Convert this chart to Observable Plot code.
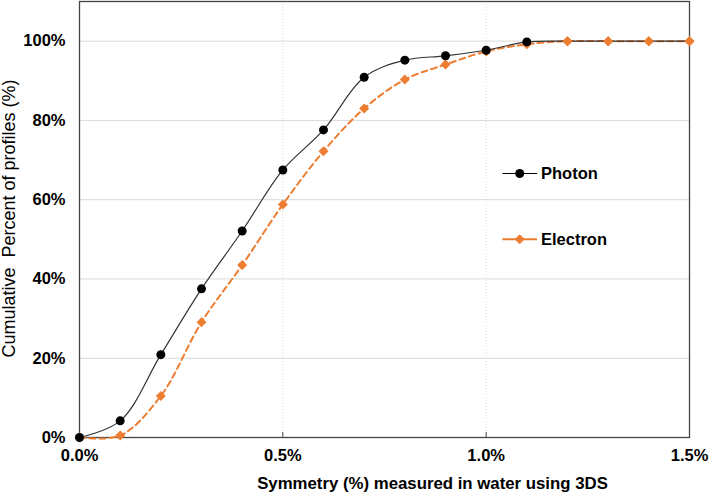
<!DOCTYPE html>
<html>
<head>
<meta charset="utf-8">
<script src="https://cdn.jsdelivr.net/npm/d3@7"></script>
<script src="https://cdn.jsdelivr.net/npm/@observablehq/plot@0.6"></script>
<style>
  html, body { margin: 0; padding: 0; background: #fff; }
  #chart { width: 709px; height: 499px; }
</style>
</head>
<body>
<div id="chart"></div>
<script>
// Symmetry (%) measured in water using 3DS
const symmetry = [0.0, 0.1, 0.2, 0.3, 0.4, 0.5, 0.6, 0.7, 0.8, 0.9, 1.0, 1.1, 1.2, 1.3, 1.4, 1.5];
// Cumulative percent of profiles (fractions)
const photon   = [0, 0.042, 0.209, 0.375, 0.521, 0.675, 0.776, 0.909, 0.952, 0.963, 0.977, 0.998, 1, 1, 1, 1];
const electron = [0, 0.005, 0.105, 0.291, 0.435, 0.588, 0.722, 0.830, 0.903, 0.941, 0.974, 0.992, 1, 1, 1, 1];
const xTicks = [0, 0.5, 1.0, 1.5];
const yTicks = [0, 0.2, 0.4, 0.6, 0.8, 1.0];
const seriesNames = ["Photon", "Electron"];
const xTitle = "Symmetry (%) measured in water using 3DS";
const yTitle = "Cumulative  Percent of profiles (%)";
const colors = {Photon: "#000000", Electron: "#ED7D31"};

const photonData = symmetry.map((x, i) => ({x, y: photon[i]}));
const electronData = symmetry.map((x, i) => ({x, y: electron[i]}));

// legend keys positioned in data space
const legend = [
  {name: "Photon", x1: 1.04, x2: 1.125, y: 0.666},
  {name: "Electron", x1: 1.04, x2: 1.125, y: 0.50}
];

const plot = Plot.plot({
  width: 709,
  height: 499,
  marginLeft: 79,
  marginRight: 20,
  marginTop: 1,
  marginBottom: 62,
  style: {fontFamily: "'Liberation Sans', Arial, sans-serif", fontSize: "16.5px", fontWeight: "bold", color: "#000", background: "#fff"},
  x: {domain: [0, 1.5]},
  y: {domain: [0, 1.1]},
  marks: [
    Plot.gridY(yTicks, {stroke: "#d9d9d9", strokeOpacity: 1}),
    Plot.gridX([0.5, 1.0], {stroke: "#d9d9d9", strokeOpacity: 1, strokeDasharray: "1,2"}),
    Plot.axisX(xTicks, {tickFormat: d => d.toFixed(1) + "%", tickSize: -5, tickPadding: 17, stroke: "#444", label: null}),
    Plot.axisY(yTicks, {tickFormat: d => Math.round(d * 100) + "%", tickSize: 0, tickPadding: 14, label: null}),
    Plot.text([xTitle], {text: d => d, frameAnchor: "bottom", dx: 48, dy: 51, fontSize: 16.8, fontWeight: "bold", fill: "#000"}),
    Plot.text([yTitle], {text: d => d, frameAnchor: "left", textAnchor: "middle", rotate: -90, dx: -70, dy: -1, fontSize: 18, fontWeight: "normal", fill: "#000"}),
    Plot.frame({stroke: "#444", strokeWidth: 1.3}),
    Plot.line(electronData, {x: "x", y: "y", stroke: colors.Electron, strokeWidth: 2, strokeDasharray: "6,4", curve: "catmull-rom"}),
    Plot.dot(electronData, {x: "x", y: "y", symbol: "diamond2", r: 4.5, fill: colors.Electron}),
    Plot.line(photonData, {x: "x", y: "y", stroke: "#333", strokeWidth: 1.2, curve: "catmull-rom"}),
    Plot.dot(photonData.filter(d => d.x <= 1.1), {x: "x", y: "y", r: 4.5, fill: colors.Photon}),
    Plot.dot(electronData.filter(d => d.x >= 1.2), {x: "x", y: "y", symbol: "diamond2", r: 4.5, fill: colors.Electron}),
    // legend
    Plot.link(legend, {x1: "x1", x2: "x2", y1: "y", y2: "y",
      stroke: d => colors[d.name], strokeWidth: d => d.name === "Photon" ? 1.2 : 2,
      strokeDasharray: d => d.name === "Photon" ? null : "5,3"}),
    Plot.dot(legend, {x: d => (d.x1 + d.x2) / 2, y: "y", r: 4.5,
      symbol: d => d.name === "Photon" ? "circle" : "diamond2", fill: d => colors[d.name]}),
    Plot.text(legend, {x: "x2", y: "y", text: "name", textAnchor: "start", dx: 4, fontSize: 16.5, fill: "#000"})
  ]
});
document.getElementById("chart").appendChild(plot);
</script>
</body>
</html>
